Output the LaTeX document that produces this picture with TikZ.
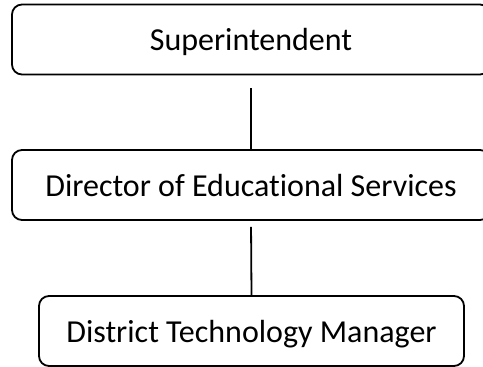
\documentclass[tikz,border=0pt]{standalone}
\usepackage{fontspec}
\setmainfont{Carlito}[Ligatures={NoCommon}]
\begin{document}
\begin{tikzpicture}[x=1pt,y=1pt,
	rolebox/.style={draw,line width=1.8pt,rounded corners=10pt,minimum height=70pt,inner sep=0pt,text height=23pt,text depth=0pt,font=\fontsize{32}{38}\selectfont},
	link/.style={line width=1.8pt}]
	\useasboundingbox (0,0) rectangle (483,367);
	\clip (0,0) rectangle (483,367);
	\node [rolebox,minimum width=478pt] (supt) at (251,327.5){Superintendent};
	\node [rolebox,minimum width=478pt] (dir) at (251,182){Director of Educational Services};
	\node [rolebox,minimum width=425pt] (mgr) at (251.5,36){District Technology Manager};
	\draw [link,shorten <=13pt] (supt.south)--(dir.north);
	\draw [link,shorten <=6pt] (dir.south)--(mgr.north);
\end{tikzpicture}
\end{document}
